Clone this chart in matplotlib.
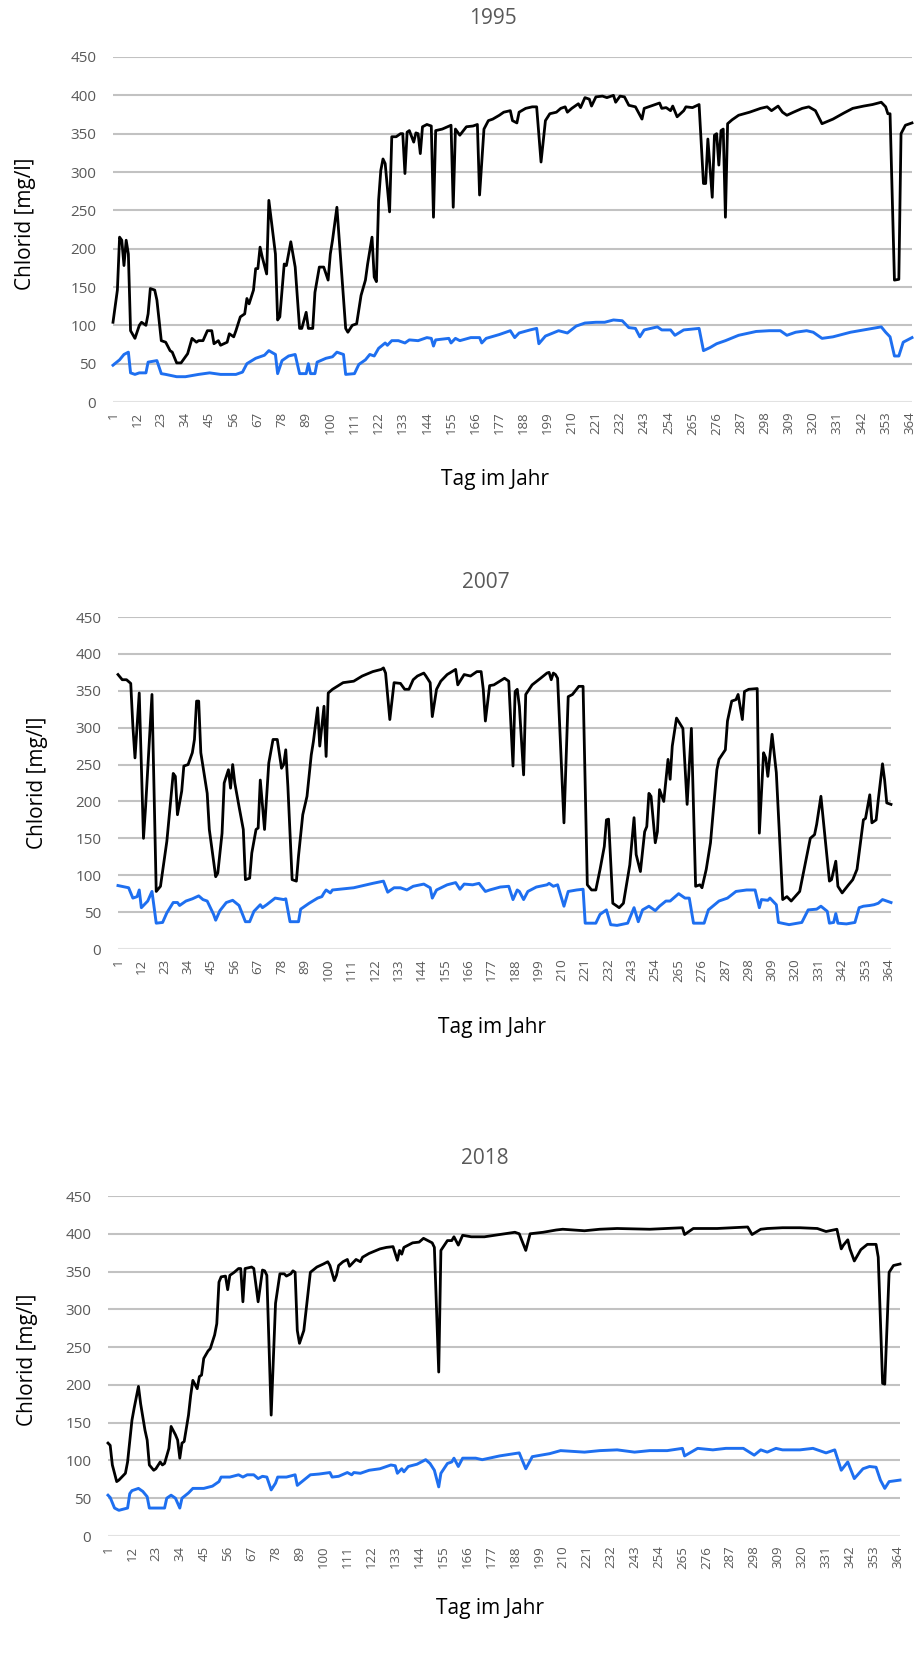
import matplotlib
matplotlib.use("Agg")
import matplotlib.pyplot as plt

# --- Daten: (Tag, Chlorid mg/l) ---
tage_1995_schwarz = [1, 3, 4, 5, 6, 7, 8, 9, 11, 13, 14, 16, 17, 18, 20, 21, 23, 25, 27, 28, 30, 32, 35, 37, 39, 40, 42, 44, 46, 47, 49, 50, 53, 54, 56, 57, 59, 61, 62, 63, 65, 66, 67, 68, 69, 71, 72, 75, 76, 77, 79, 80, 82, 84, 86, 87, 89, 90, 92, 93, 95, 97, 99, 100, 101, 103, 107, 108, 110, 112, 114, 116, 117, 119, 120, 121, 122, 123, 124, 125, 127, 128, 130, 132, 133, 134, 135, 136, 138, 139, 140, 141, 142, 144, 146, 147, 148, 151, 155, 156, 157, 159, 162, 165, 167, 168, 170, 172, 174, 177, 179, 182, 183, 185, 186, 189, 192, 194, 196, 198, 200, 203, 205, 207, 208, 210, 213, 214, 216, 218, 219, 221, 224, 226, 229, 230, 232, 234, 236, 239, 242, 243, 246, 250, 251, 253, 255, 256, 258, 261, 262, 265, 268, 270, 271, 272, 274, 275, 276, 277, 278, 279, 280, 281, 283, 286, 291, 296, 299, 301, 304, 306, 308, 311, 315, 318, 321, 324, 329, 334, 338, 343, 347, 351, 353, 354, 355, 357, 359, 360, 362, 365]
werte_1995_schwarz = [104, 146, 215, 211, 178, 211, 193, 93, 83, 100, 104, 100, 115, 148, 146, 133, 80, 78, 67, 65, 51, 51, 63, 83, 78, 80, 80, 93, 93, 76, 80, 74, 78, 89, 85, 93, 111, 115, 135, 128, 146, 174, 174, 202, 189, 167, 263, 193, 107, 111, 180, 178, 209, 176, 96, 96, 117, 96, 96, 143, 176, 176, 159, 193, 211, 254, 96, 91, 100, 102, 139, 159, 180, 215, 163, 157, 263, 302, 317, 311, 248, 346, 346, 350, 350, 298, 352, 354, 339, 351, 350, 324, 359, 362, 360, 241, 354, 356, 361, 254, 356, 348, 359, 360, 362, 270, 356, 367, 369, 374, 378, 380, 367, 364, 378, 383, 385, 385, 313, 367, 376, 378, 383, 385, 378, 383, 389, 384, 397, 395, 386, 398, 399, 397, 400, 391, 399, 398, 387, 385, 369, 383, 386, 390, 383, 384, 380, 386, 372, 380, 385, 384, 388, 285, 285, 343, 267, 348, 350, 309, 354, 356, 241, 363, 368, 374, 378, 383, 385, 380, 386, 378, 374, 378, 383, 385, 380, 363, 369, 377, 383, 386, 388, 391, 385, 376, 376, 159, 160, 350, 361, 364]
tage_1995_blau = [1, 4, 6, 8, 9, 11, 13, 16, 17, 21, 23, 25, 30, 34, 40, 45, 50, 57, 60, 62, 66, 70, 72, 75, 76, 78, 81, 84, 86, 89, 90, 91, 93, 94, 98, 101, 103, 106, 107, 111, 113, 116, 118, 120, 122, 125, 126, 128, 131, 134, 136, 140, 144, 146, 147, 148, 154, 155, 157, 159, 164, 168, 169, 171, 177, 182, 184, 186, 191, 194, 195, 198, 204, 208, 212, 216, 221, 225, 229, 233, 236, 239, 241, 243, 249, 251, 255, 257, 261, 268, 270, 273, 276, 280, 286, 294, 300, 305, 308, 312, 317, 320, 324, 329, 337, 343, 347, 351, 353, 355, 357, 359, 361, 365]
werte_1995_blau = [48, 55, 62, 65, 38, 36, 38, 38, 52, 54, 37, 36, 33, 33, 36, 38, 36, 36, 39, 50, 57, 61, 67, 62, 37, 54, 60, 62, 37, 37, 50, 37, 37, 52, 57, 59, 65, 62, 36, 37, 49, 55, 62, 60, 70, 77, 74, 80, 80, 77, 81, 80, 84, 83, 73, 81, 83, 77, 83, 80, 84, 84, 77, 83, 88, 93, 84, 90, 94, 96, 76, 86, 93, 90, 99, 103, 104, 104, 107, 106, 97, 96, 85, 94, 98, 94, 94, 87, 94, 96, 67, 71, 76, 80, 87, 92, 93, 93, 87, 91, 93, 91, 83, 85, 91, 94, 96, 98, 91, 85, 60, 60, 78, 84]

tage_2007_schwarz = [1, 3, 5, 7, 8, 9, 11, 13, 14, 17, 19, 21, 24, 27, 28, 29, 31, 32, 34, 36, 37, 38, 39, 40, 43, 44, 47, 48, 50, 51, 53, 54, 55, 56, 58, 60, 61, 63, 64, 66, 67, 68, 70, 72, 74, 76, 78, 79, 80, 81, 83, 85, 86, 88, 90, 92, 93, 95, 96, 97, 98, 99, 100, 102, 107, 112, 116, 121, 125, 126, 127, 129, 131, 134, 136, 138, 140, 142, 145, 146, 148, 149, 151, 153, 156, 160, 161, 164, 167, 170, 172, 173, 174, 176, 178, 183, 185, 187, 188, 189, 190, 192, 193, 196, 200, 203, 204, 205, 206, 207, 208, 211, 213, 215, 218, 220, 222, 224, 226, 228, 230, 231, 232, 234, 237, 239, 242, 244, 245, 247, 249, 250, 251, 252, 254, 255, 256, 258, 260, 261, 262, 264, 267, 269, 271, 273, 275, 276, 278, 280, 283, 284, 287, 288, 290, 292, 293, 295, 296, 298, 302, 303, 305, 306, 307, 309, 311, 314, 316, 318, 322, 325, 327, 329, 330, 332, 334, 336, 337, 339, 340, 342, 345, 347, 349, 352, 353, 355, 356, 358, 359, 361, 362, 363, 365]
werte_2007_schwarz = [372, 365, 365, 360, 302, 259, 347, 150, 193, 345, 78, 85, 146, 238, 234, 182, 214, 248, 250, 266, 284, 336, 336, 266, 211, 162, 98, 103, 157, 225, 243, 218, 250, 225, 193, 162, 94, 96, 130, 162, 164, 229, 162, 252, 284, 284, 245, 250, 270, 220, 94, 92, 126, 182, 207, 263, 281, 327, 275, 302, 329, 261, 347, 352, 361, 363, 370, 376, 379, 381, 374, 311, 361, 360, 352, 352, 365, 370, 374, 370, 361, 315, 352, 363, 372, 379, 358, 372, 370, 376, 376, 352, 309, 357, 358, 367, 363, 248, 349, 352, 329, 236, 345, 358, 367, 374, 375, 365, 374, 372, 367, 171, 342, 345, 356, 356, 87, 80, 80, 108, 139, 175, 176, 62, 56, 62, 114, 178, 128, 105, 159, 166, 211, 207, 144, 159, 216, 200, 257, 230, 275, 313, 299, 196, 299, 85, 87, 83, 108, 144, 243, 257, 270, 309, 336, 338, 345, 311, 349, 352, 353, 157, 266, 259, 234, 291, 239, 67, 71, 65, 78, 121, 150, 155, 169, 207, 150, 92, 94, 119, 85, 76, 87, 94, 108, 175, 177, 209, 171, 175, 202, 251, 229, 198, 196]
tage_2007_blau = [1, 6, 8, 10, 11, 12, 15, 17, 19, 22, 24, 27, 29, 30, 33, 36, 39, 41, 43, 46, 47, 49, 52, 55, 58, 61, 63, 65, 68, 69, 71, 75, 77, 79, 80, 82, 86, 87, 91, 95, 97, 98, 99, 101, 102, 112, 121, 126, 128, 131, 134, 137, 140, 145, 148, 149, 151, 156, 160, 162, 164, 168, 171, 174, 176, 181, 185, 187, 189, 190, 192, 194, 198, 203, 204, 206, 208, 211, 213, 217, 220, 221, 226, 228, 231, 233, 236, 241, 244, 246, 248, 251, 254, 256, 259, 261, 265, 268, 270, 272, 277, 279, 284, 288, 292, 297, 301, 303, 304, 307, 308, 311, 312, 317, 323, 326, 330, 332, 335, 336, 338, 339, 340, 344, 348, 350, 352, 355, 357, 359, 361, 365]
werte_2007_blau = [86, 83, 69, 71, 80, 56, 65, 78, 35, 36, 49, 63, 63, 59, 65, 68, 72, 67, 65, 47, 39, 52, 63, 66, 59, 37, 37, 51, 60, 56, 60, 69, 68, 67, 68, 37, 37, 54, 62, 69, 71, 76, 80, 76, 80, 83, 89, 92, 77, 83, 83, 80, 85, 88, 83, 69, 80, 87, 90, 81, 88, 87, 89, 78, 80, 84, 85, 67, 80, 78, 67, 78, 84, 87, 89, 85, 87, 58, 78, 80, 81, 35, 35, 47, 53, 33, 32, 35, 56, 37, 53, 58, 52, 58, 65, 65, 75, 69, 69, 35, 35, 53, 65, 69, 78, 80, 80, 56, 67, 66, 69, 60, 36, 33, 36, 53, 54, 58, 51, 35, 36, 48, 35, 34, 36, 56, 58, 59, 60, 62, 67, 63]

tage_2018_schwarz = [1, 2, 3, 5, 6, 9, 10, 12, 13, 15, 16, 18, 19, 20, 22, 23, 25, 26, 27, 29, 30, 32, 33, 34, 35, 36, 38, 39, 40, 42, 43, 44, 45, 47, 48, 50, 51, 52, 53, 55, 56, 57, 59, 61, 62, 63, 64, 67, 68, 70, 72, 73, 74, 76, 78, 80, 82, 83, 85, 86, 87, 88, 89, 91, 94, 97, 100, 102, 103, 105, 106, 107, 109, 111, 112, 114, 115, 117, 118, 121, 126, 129, 132, 134, 135, 136, 137, 141, 144, 146, 148, 150, 151, 153, 154, 157, 159, 160, 162, 164, 168, 174, 181, 188, 190, 193, 195, 201, 207, 210, 220, 227, 235, 250, 258, 265, 266, 270, 281, 288, 295, 297, 301, 304, 311, 319, 327, 331, 336, 338, 339, 341, 342, 344, 347, 350, 354, 355, 357, 358, 360, 362, 365]
werte_2018_schwarz = [123, 120, 94, 72, 74, 83, 98, 153, 169, 198, 175, 140, 127, 94, 87, 89, 98, 94, 96, 116, 145, 134, 127, 103, 123, 125, 160, 186, 206, 195, 211, 213, 235, 245, 248, 266, 281, 336, 343, 344, 326, 345, 349, 354, 354, 310, 354, 356, 354, 310, 352, 351, 345, 160, 308, 347, 347, 344, 347, 351, 349, 272, 255, 272, 349, 356, 360, 363, 358, 338, 345, 358, 363, 366, 357, 363, 366, 363, 369, 374, 380, 382, 383, 365, 378, 373, 382, 388, 389, 394, 391, 388, 382, 217, 378, 391, 391, 396, 385, 398, 396, 396, 399, 402, 400, 378, 400, 402, 405, 406, 404, 406, 407, 406, 407, 408, 399, 407, 407, 408, 409, 399, 406, 407, 408, 408, 407, 403, 406, 380, 385, 392, 380, 364, 379, 386, 386, 369, 202, 201, 349, 358, 360]
tage_2018_blau = [1, 2, 4, 6, 10, 11, 12, 15, 17, 19, 20, 27, 28, 30, 32, 34, 35, 38, 40, 45, 49, 52, 53, 57, 61, 63, 65, 68, 70, 72, 74, 76, 78, 79, 83, 87, 88, 91, 94, 98, 103, 104, 107, 111, 113, 114, 117, 121, 126, 131, 133, 134, 136, 137, 139, 143, 147, 149, 151, 153, 154, 157, 159, 160, 162, 164, 170, 173, 181, 190, 193, 196, 204, 209, 220, 227, 235, 243, 250, 258, 265, 266, 272, 279, 285, 293, 298, 301, 304, 308, 311, 319, 325, 331, 335, 338, 341, 344, 348, 351, 354, 356, 358, 360, 365]
werte_2018_blau = [54, 51, 37, 34, 37, 56, 60, 63, 59, 52, 37, 37, 50, 54, 50, 37, 50, 57, 63, 63, 66, 72, 78, 78, 81, 78, 81, 81, 76, 79, 78, 61, 70, 78, 78, 81, 67, 74, 81, 82, 84, 78, 79, 84, 81, 84, 83, 87, 89, 94, 93, 83, 89, 85, 92, 95, 101, 96, 87, 65, 83, 96, 98, 103, 92, 103, 103, 101, 106, 110, 89, 105, 109, 113, 111, 113, 114, 111, 113, 113, 116, 106, 116, 114, 116, 116, 107, 114, 111, 116, 114, 114, 116, 110, 114, 87, 98, 76, 89, 92, 91, 74, 63, 72, 74]

x_ticks = list(range(1, 365, 11))
y_ticks = list(range(0, 451, 50))

GRAU = "#595959"
BLAU = "#1e6ff0"

plt.rcParams["font.family"] = ["Open Sans", "DejaVu Sans"]

W, H = 919, 1660


def panel(fig, rect, titel, title_xy, xlabel_xy, ylabel_xy, tage_s, werte_s, tage_b, werte_b):
    # rect in Pixel: links, oben, rechts, unten
    l, t, r, b = rect
    ax = fig.add_axes([l / W, 1 - b / H, (r - l) / W, (b - t) / H])
    ax.plot(tage_b, werte_b, color=BLAU, lw=2.1, solid_joinstyle="round", clip_on=False)
    ax.plot(tage_s, werte_s, color="black", lw=2.0, solid_joinstyle="round", clip_on=False)
    ax.set_xlim(1, 365)
    ax.set_ylim(0, 450)
    ax.set_xticks(x_ticks)
    ax.set_xticklabels([str(i) for i in x_ticks])
    ax.set_yticks(y_ticks)
    ax.tick_params(axis="x", labelrotation=90, length=0, pad=7, labelsize=9.5, labelcolor=GRAU)
    ax.tick_params(axis="y", length=0, pad=12, labelsize=11, labelcolor=GRAU)
    for s in ax.spines.values():
        s.set_visible(False)
    ax.yaxis.grid(True, color="#c2c2c2", lw=1.5)
    ax.get_ygridlines()[0].set_color("#e2e2e2")
    ax.set_axisbelow(True)
    fig.text(title_xy[0] / W, 1 - title_xy[1] / H, titel, ha="center", va="center",
             fontsize=15, color=GRAU)
    fig.text(xlabel_xy[0] / W, 1 - xlabel_xy[1] / H, "Tag im Jahr", ha="center", va="center",
             fontsize=15, color="black")
    fig.text(ylabel_xy[0] / W, 1 - ylabel_xy[1] / H, "Chlorid [mg/l]", ha="center", va="center",
             rotation=90, fontsize=15, color="black")
    return ax


def main():
    fig = plt.figure(figsize=(W / 100, H / 100), dpi=100)
    panel(fig, (113, 57, 912, 402), "1995", (493, 19), (495, 479), (25, 224),
          tage_1995_schwarz, werte_1995_schwarz, tage_1995_blau, werte_1995_blau)
    panel(fig, (118, 617, 891, 949), "2007", (486, 582), (492, 1027), (38, 783),
          tage_2007_schwarz, werte_2007_schwarz, tage_2007_blau, werte_2007_blau)
    panel(fig, (108, 1196, 900, 1536), "2018", (485, 1158), (490, 1608), (27, 1360),
          tage_2018_schwarz, werte_2018_schwarz, tage_2018_blau, werte_2018_blau)
    fig.savefig("out.png", dpi=100, facecolor="white")
    plt.close(fig)


if __name__ == "__main__":
    main()
